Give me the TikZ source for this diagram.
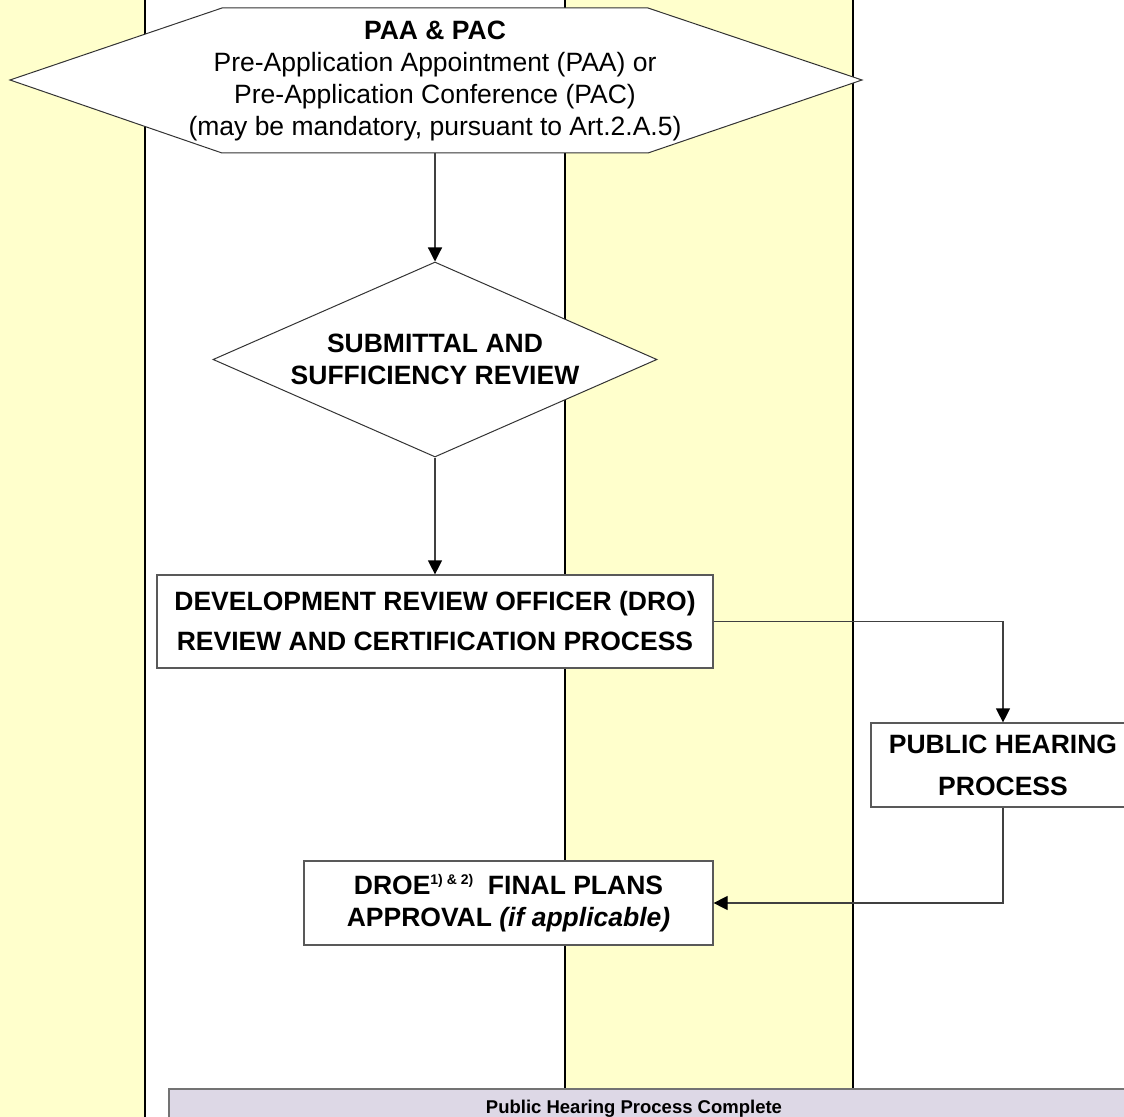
\documentclass[tikz,border=0pt]{standalone}
\usepackage{fontspec}
\setmainfont{Liberation Sans}
\usetikzlibrary{shapes.geometric, arrows.meta, positioning}
\definecolor{laneyellow}{HTML}{FFFFCC}
\definecolor{barlilac}{HTML}{DDD8E6}

\begin{document}
\begin{tikzpicture}[x=0.5pt, y=-0.5pt,
        block/.style={draw=black!65, fill=white, line width=0.6pt, align=center, inner sep=0pt, font=\fontsize{13.25pt}{20pt}\selectfont\bfseries},
        decision/.style={diamond, draw=black!80, fill=white, line width=0.5pt, aspect=2.28, minimum width=222pt, minimum height=97.5pt, inner sep=0pt, align=center, font=\fontsize{13.25pt}{16pt}\selectfont\bfseries},
        arrow/.style={-{Triangle[length=7pt, width=7pt, black]}, draw=black!75, line width=0.6pt},
        lane/.style={draw=black, line width=0.9pt}
    ]
        \useasboundingbox (0,0) rectangle (1124,1117);
        \clip (0,0) rectangle (1124,1117);

        % Lanes
        \fill[laneyellow] (0,0) rectangle (145,1117);
        \fill[laneyellow] (565,0) rectangle (853,1089);
        \draw[lane] (145,0) -- (145,1117);
        \draw[lane] (565,0) -- (565,1089);
        \draw[lane] (853,0) -- (853,1089);

        % Pre-application
        \draw[draw=black!80, fill=white, line width=0.5pt] (10,80) -- (222,8) -- (648,8) -- (862,80) -- (648,153) -- (222,153) -- cycle;
        \node[align=center, font=\fontsize{13.25pt}{16pt}\selectfont] (paa) at (435,81) {\textbf{PAA \& PAC}\\Pre-Application Appointment (PAA) or\\Pre-Application Conference (PAC)\\(may be mandatory, pursuant to Art.2.A.5)};
        \coordinate (paabot) at (435,153);

        % Submittal
        \node[decision] (sub) at (435,359.5) {SUBMITTAL AND\\SUFFICIENCY REVIEW};

        % DRO
        \node[block, minimum width=278pt, minimum height=46.5pt] (dro) at (435,621.5) {DEVELOPMENT REVIEW OFFICER (DRO)\\REVIEW AND CERTIFICATION PROCESS};

        % Public hearing
        \node[block, minimum width=132pt, minimum height=42pt, font=\fontsize{13.25pt}{21pt}\selectfont\bfseries] (ph) at (1003,765) {PUBLIC HEARING\\PROCESS};

        % DROE
        \node[block, minimum width=204.5pt, minimum height=42pt, font=\fontsize{13.25pt}{16pt}\selectfont\bfseries] (droe) at (508.5,903) {DROE\raisebox{0.75ex}{\fontsize{7pt}{7pt}\selectfont 1) \& 2)}\ \ FINAL PLANS\\APPROVAL \textit{(if applicable)}};

        % Complete
        \draw[draw=black!55, fill=barlilac, line width=0.8pt] (169,1089) rectangle (1140,1140);
        \node[anchor=base, font=\fontsize{9.25pt}{11pt}\selectfont\bfseries] (done) at (634,1113) {Public Hearing Process Complete};

        % Arrows
        \draw[arrow] (paabot) -- (sub.north);
        \draw[arrow] (sub.south) -- (dro.north);
        \draw[arrow] (dro.east) -| (ph.north);
        \draw[arrow] (ph.south) |- (droe.east);
    \end{tikzpicture}
\end{document}
